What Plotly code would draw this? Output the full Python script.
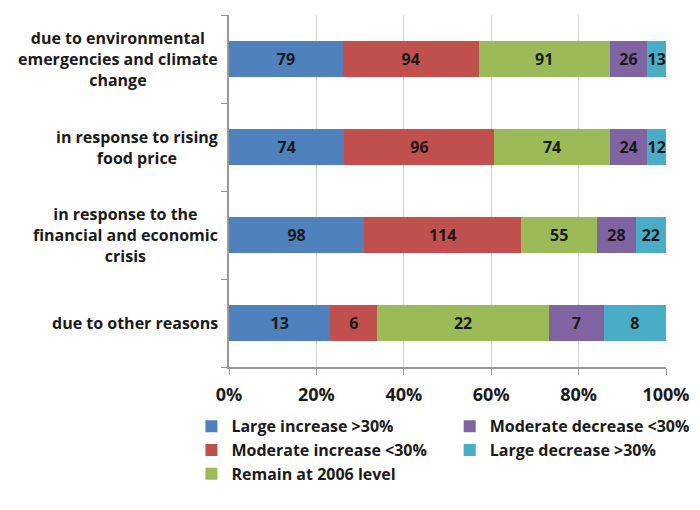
import plotly.graph_objects as go

categories = [
    "due to environmental<br>emergencies and climate<br>change",
    "in response to rising<br>food price",
    "in response to the<br>financial and economic<br>crisis",
    "due to other reasons",
]
series_names = [
    "Large increase >30%",
    "Moderate increase <30%",
    "Remain at 2006 level",
    "Moderate decrease <30%",
    "Large decrease >30%",
]
large_increase = [79, 74, 98, 13]
moderate_increase = [94, 96, 114, 6]
remain = [91, 74, 55, 22]
moderate_decrease = [26, 24, 28, 7]
large_decrease = [13, 12, 22, 8]
colors = ["#4F81BD", "#C0504D", "#9BBB59", "#8064A2", "#4BACC6"]
x_ticks = [0, 20, 40, 60, 80, 100]
x_tick_labels = ["0%", "20%", "40%", "60%", "80%", "100%"]

values = [large_increase, moderate_increase, remain, moderate_decrease, large_decrease]
legends = ["legend", "legend", "legend", "legend2", "legend2"]

FONT = "Open Sans"
fig = go.Figure()
cat_ids = list(range(len(categories)))
for name, vals, col, lg in zip(series_names, values, colors, legends):
    fig.add_trace(go.Bar(
        y=cat_ids, x=vals, name=name, orientation="h",
        marker=dict(color=col, line=dict(width=0)),
        text=[str(v) for v in vals], texttemplate="%{text}",
        textposition="inside", insidetextanchor="middle",
        textfont=dict(color="#1a1a1a", size=16, family=FONT, weight="bold"),
        legend=lg,
    ))

for i, c in enumerate(categories):
    fig.add_annotation(
        x=0, xref="paper", xanchor="right", xshift=-9,
        y=i, yref="y", yanchor="middle",
        text=c, align="center", showarrow=False,
        font=dict(size=16, family=FONT, color="#1a1a1a", weight="bold"),
    )

fig.update_layout(
    width=700, height=510,
    barmode="stack", barnorm="percent", bargap=0.59,
    margin=dict(l=221, r=42, t=7, b=151, autoexpand=False),
    plot_bgcolor="white", paper_bgcolor="white",
    font=dict(family=FONT, color="#1a1a1a", weight="bold"),
    uniformtext=dict(minsize=16, mode="show"),
    legend=dict(x=-0.086, xanchor="left", y=-0.12, yanchor="top",
                font=dict(size=16, family=FONT, weight="bold"),
                traceorder="normal", tracegroupgap=0, itemwidth=30),
    legend2=dict(x=0.505, xanchor="left", y=-0.12, yanchor="top",
                 font=dict(size=16, family=FONT, weight="bold"),
                 traceorder="normal", tracegroupgap=0, itemwidth=30),
)
fig.update_xaxes(
    range=[0, 100], tickvals=x_ticks, ticktext=x_tick_labels,
    showgrid=True, gridcolor="#d4d4d4", gridwidth=1,
    showline=True, linecolor="#999999", linewidth=2,
    ticks="outside", ticklen=6, tickcolor="#999999", tickwidth=1,
    tickfont=dict(size=18, family=FONT, color="#1a1a1a", weight="bold"),
    ticklabelstandoff=4, zeroline=False,
)
fig.update_yaxes(
    type="linear", range=[3.5, -0.5], tickvals=[-0.5, 0.5, 1.5, 2.5, 3.5],
    showticklabels=False, showgrid=False,
    showline=True, linecolor="#999999", linewidth=2,
    ticks="outside", ticklen=6, tickcolor="#999999", tickwidth=1,
    zeroline=False,
)

fig.write_html("out.html")
